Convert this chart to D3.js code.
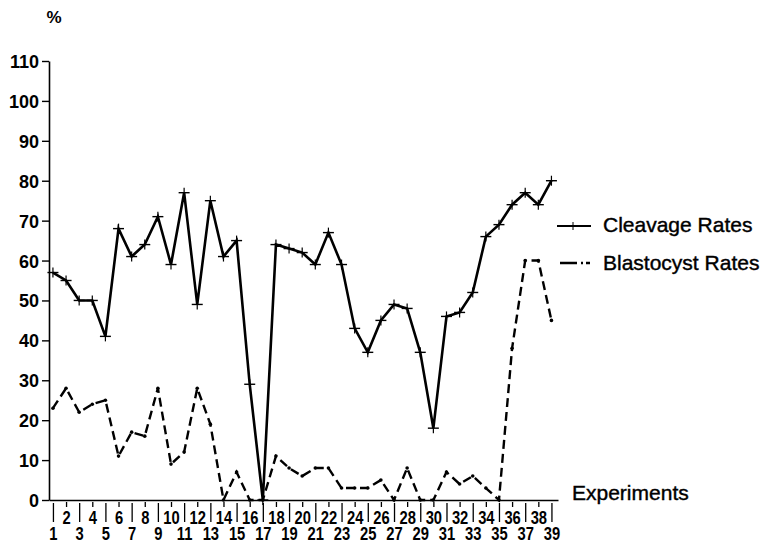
<!DOCTYPE html>
<html>
<head>
<meta charset="utf-8">
<script src="https://cdn.jsdelivr.net/npm/d3@7"></script>
<style>
  body { margin: 0; background: #fff; }
  svg { display: block; font-family: "Liberation Sans", Arial, Helvetica, sans-serif; }
</style>
</head>
<body>
<div id="chart"></div>
<script>
'use strict';

const width = 764;
const height = 545;

// experiment numbers 1..39
const experiments = [1,2,3,4,5,6,7,8,9,10,11,12,13,14,15,16,17,18,19,20,
	21,22,23,24,25,26,27,28,29,30,31,32,33,34,35,36,37,38,39];

const cleavageRates = [57,55,50,50,41,68,61,64,71,59,77,49,75,61,65,29,0,64,63,62,
	59,67,59,43,37,45,49,48,37,18,46,47,52,66,69,74,77,74,80];

const blastocystRates = [23,28,22,24,25,11,17,16,28,9,12,28,19,0,7,0,0,11,8,6,
	8,8,3,3,3,5,0,8,0,0,7,4,6,3,0,38,60,60,45];

const yTicks = [0,10,20,30,40,50,60,70,80,90,100,110];

const svg = d3.select("#chart")
	.append("svg")
	.attr("width", width)
	.attr("height", height);

const x = d3.scaleLinear()
	.domain([0.7, 39.5])
	.range([49, 558]);

const y = d3.scaleLinear()
	.domain([0, 110])
	.range([500, 61]);

// Y axis
const yAxis = svg.append("g")
	.attr("transform", "translate(49,0)")
	.call(d3.axisLeft(y).tickValues(yTicks).tickSizeInner(7).tickSizeOuter(0).tickPadding(3));
yAxis.select(".domain").attr("stroke", "#000").attr("stroke-width", 1.6);
yAxis.selectAll(".tick line").attr("stroke", "#000").attr("stroke-width", 1.4);
yAxis.selectAll(".tick text")
	.attr("fill", "#000")
	.style("font-size", "18px")
	.style("font-weight", "bold")
	.attr("dy", "0.36em");

// X axis: long ticks on odd experiments, short on even ones
const xAxis = svg.append("g")
	.attr("transform", "translate(0,500)")
	.call(d3.axisBottom(x).tickValues(experiments).tickFormat(d3.format("d")).tickSizeOuter(0));
xAxis.select(".domain").attr("stroke", "#000").attr("stroke-width", 1.6);
xAxis.selectAll(".tick line")
	.attr("stroke", "#000")
	.attr("stroke-width", 1.3)
	.attr("y1", d => d % 2 ? 3 : 2)
	.attr("y2", d => d % 2 ? 22 : 7);
xAxis.selectAll(".tick text")
	.attr("fill", "#000")
	.attr("dy", null)
	.attr("y", d => d % 2 ? 40 : 24)
	.attr("transform", "scale(0.82,1)")
	.style("font-size", "18px")
	.style("font-weight", "bold");

const lineGen = d3.line()
	.x((d, i) => x(experiments[i]))
	.y(d => y(d));

// Blastocyst (dashed)
svg.append("path")
	.datum(blastocystRates)
	.attr("fill", "none")
	.attr("stroke", "#000")
	.attr("stroke-width", 2.4)
	.attr("stroke-dasharray", "9,5")
	.attr("d", lineGen);

svg.append("g")
	.selectAll("circle")
	.data(blastocystRates)
	.enter().append("circle")
	.attr("cx", (d, i) => x(experiments[i]))
	.attr("cy", d => y(d))
	.attr("r", 1.8)
	.attr("fill", "#000");

// Cleavage (solid with crosses)
svg.append("path")
	.datum(cleavageRates)
	.attr("fill", "none")
	.attr("stroke", "#000")
	.attr("stroke-width", 2.6)
	.attr("stroke-linejoin", "miter")
	.attr("d", lineGen);

const crosses = svg.append("g")
	.selectAll("g")
	.data(cleavageRates)
	.enter().append("g")
	.attr("transform", (d, i) => `translate(${x(experiments[i])},${y(d)})`);
crosses.append("line")
	.attr("x1", -5.5).attr("x2", 5.5)
	.attr("stroke", "#000").attr("stroke-width", 1.4);
crosses.append("line")
	.attr("y1", -5).attr("y2", 5)
	.attr("stroke", "#000").attr("stroke-width", 1.2);

// "%" label
svg.append("text")
	.attr("x", 54)
	.attr("y", 23)
	.attr("text-anchor", "middle")
	.style("font-size", "17px")
	.style("font-weight", "bold")
	.text("%");

// Experiments label
svg.append("text")
	.attr("x", 572)
	.attr("y", 500)
	.style("font-size", "21px")
	.attr("stroke", "#000").attr("stroke-width", 0.4)
	.text("Experiments");

// Legend
const legend = svg.append("g");
legend.append("line")
	.attr("x1", 557).attr("x2", 591)
	.attr("y1", 226).attr("y2", 226)
	.attr("stroke", "#000").attr("stroke-width", 2.2);
legend.append("line")
	.attr("x1", 573).attr("x2", 573)
	.attr("y1", 222).attr("y2", 230)
	.attr("stroke", "#000").attr("stroke-width", 1);
legend.append("text")
	.attr("x", 603).attr("y", 232)
	.style("font-size", "21px")
	.attr("stroke", "#000").attr("stroke-width", 0.4)
	.text("Cleavage Rates");

legend.append("line")
	.attr("x1", 560).attr("x2", 590)
	.attr("y1", 263).attr("y2", 263)
	.attr("stroke", "#000").attr("stroke-width", 2.4)
	.attr("stroke-dasharray", "17,4,2,3,4");
legend.append("text")
	.attr("x", 603).attr("y", 270)
	.style("font-size", "21px")
	.attr("stroke", "#000").attr("stroke-width", 0.4)
	.text("Blastocyst Rates");
</script>
</body>
</html>
